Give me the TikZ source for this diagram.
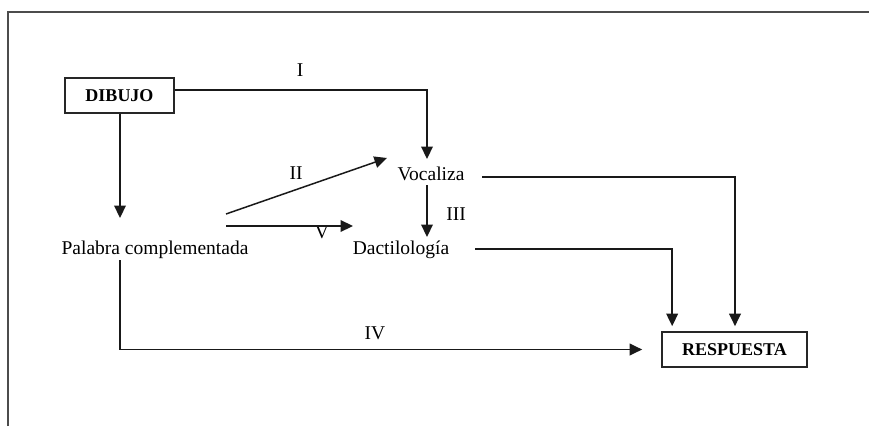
\documentclass[tikz,border=0pt]{standalone}
\usepackage{fontspec}
\setmainfont{Liberation Serif}
\usetikzlibrary{positioning,calc,arrows.meta}
\tikzstyle{caja}=[rectangle, draw=black!85, line width=1pt, text centered, minimum width=65.4pt, font=\fontsize{10.8}{12}\selectfont\bfseries]
\tikzstyle{paso}=[inner sep=0pt, font=\fontsize{11.7}{13}\selectfont]
\tikzstyle{etiqueta}=[inner sep=0pt, font=\fontsize{11.7}{13}\selectfont]
\tikzstyle{myarrow}=[-{Triangle[length=7.5pt,width=7pt]}, line width=0.9pt, black!90]

\begin{document}
\begin{tikzpicture}[x=0.6pt, y=-0.6pt]

        \useasboundingbox (0,0) rectangle (869,426);
        % Frame
        \draw[black!70, line width=0.7pt] (8,426) -- (8,12) -- (869,12);

        % Boxes
        \node (dibujo) [caja, minimum height=21pt] at (119.5,95.5) {DIBUJO};
        \node (respuesta) [caja, minimum width=87pt, minimum height=21pt] at (734.5,349.5) {RESPUESTA};

        % Steps
        \node (vocaliza) [paso] at (431,174) {Vocaliza};
        \node (dactilologia) [paso] at (401,250) {Dactilología};
        \node (palabra) [paso] at (155,250) {Palabra complementada};

        % Labels
        \node (labelI) [etiqueta] at (300,70) {I};
        \node (labelII) [etiqueta] at (296,173) {II};
        \node (labelIII) [etiqueta] at (456,214) {III};
        \node (labelIV) [etiqueta] at (375,333) {IV};
        \node (labelV) [etiqueta] at (322,232) {V};

        %Arrows
        \draw[myarrow] ($(dibujo.east)+(0,-5.5)$) -| ($(vocaliza)+(-4,-15)$);
        \draw[myarrow] ($(dibujo.south)+(0.5,0)$) -- ($(palabra)+(-35,-32)$);

        \draw[myarrow] ($(palabra)+(71,-36)$) -- ($(vocaliza)+(-44,-16)$);
        \draw[myarrow] ($(palabra)+(71,-24)$) -- ($(dactilologia)+(-48,-24)$);
        \draw[myarrow] ($(vocaliza)+(-4,11)$) -- ($(dactilologia)+(26,-13)$);

        %Respuesta Arrows
        \draw[myarrow] ($(vocaliza)+(51,3)$) -| ($(respuesta.north)+(0.5,-5)$);
        \draw[myarrow] ($(dactilologia)+(74,-1)$) -| ($(respuesta.north west)+(11,-5)$);
        \draw[myarrow] ($(palabra)+(-35,10)$) |- ($(respuesta.west)+(-19,0)$);

\end{tikzpicture}
\end{document}
